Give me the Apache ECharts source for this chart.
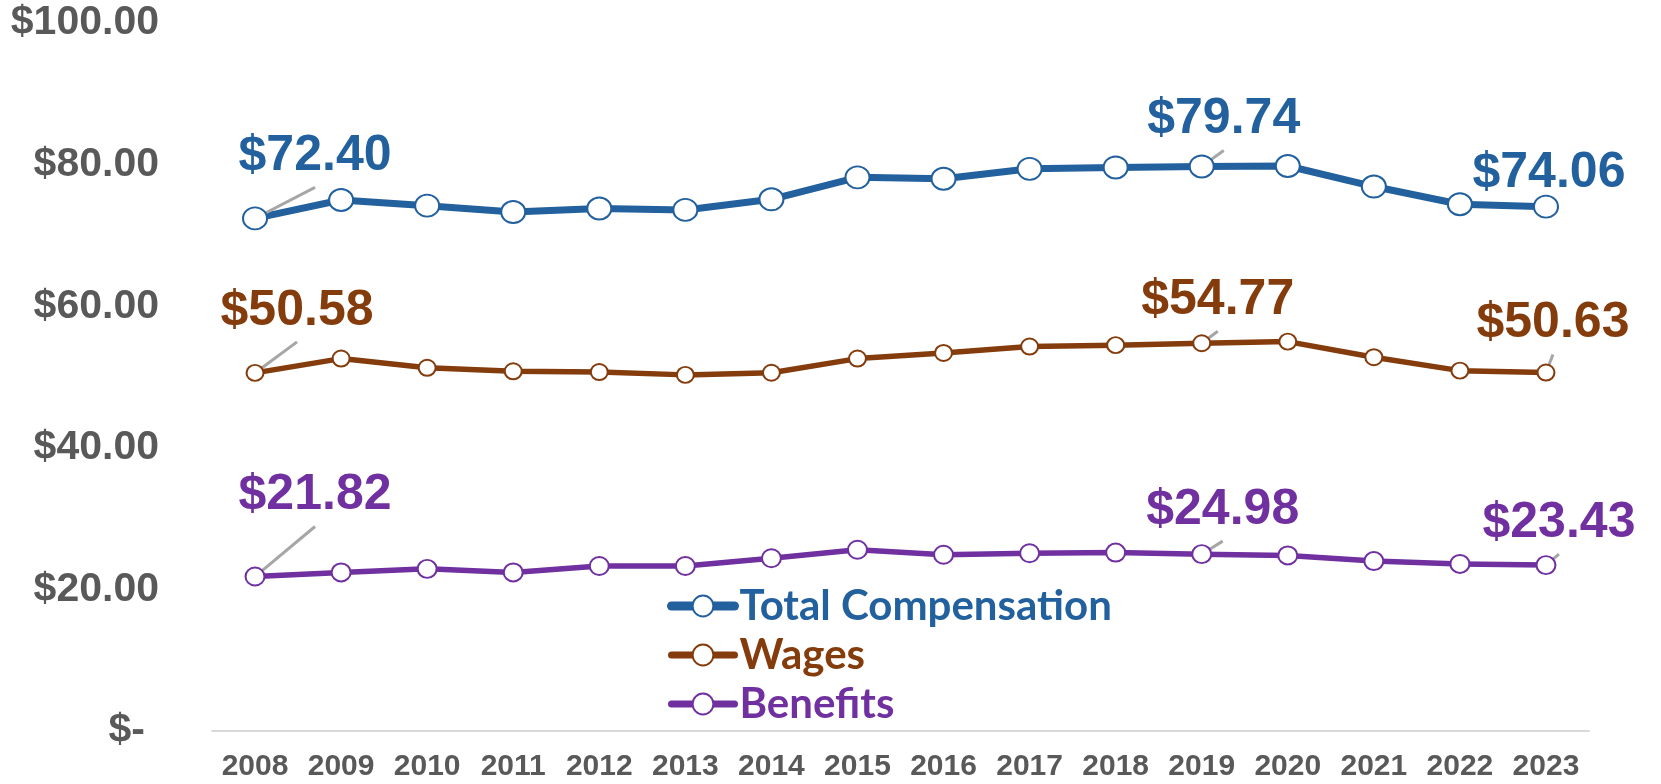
<!DOCTYPE html>
<html>
<head>
<meta charset="utf-8">
<script src="https://cdn.jsdelivr.net/npm/echarts@6/dist/echarts.min.js"></script>
<style>
  html, body { margin: 0; padding: 0; background: #ffffff; }
  #chart { width: 1661px; height: 784px; }
</style>
</head>
<body>
<div id="chart"></div>
<script>
// ---- Data ----
const categories = ['2008','2009','2010','2011','2012','2013','2014','2015','2016','2017','2018','2019','2020','2021','2022','2023'];
const totalCompensation = [72.40, 75.00, 74.20, 73.30, 73.80, 73.60, 75.10, 78.20, 78.00, 79.40, 79.60, 79.74, 79.80, 76.90, 74.40, 74.06];
const wages            = [50.58, 52.60, 51.30, 50.80, 50.70, 50.30, 50.60, 52.60, 53.40, 54.30, 54.50, 54.77, 55.00, 52.80, 50.90, 50.63];
const benefits         = [21.82, 22.40, 22.90, 22.40, 23.30, 23.30, 24.40, 25.60, 24.90, 25.10, 25.20, 24.98, 24.80, 24.00, 23.60, 23.43];
const seriesNames = ['Total Compensation', 'Wages', 'Benefits'];
const yTickValues = [0, 20, 40, 60, 80, 100];
const yTickLabels = ['$-', '$20.00', '$40.00', '$60.00', '$80.00', '$100.00'];
const labeledIndices = [0, 11, 15];

// ---- Styling / layout (not data) ----
const colors = ['#22609E', '#843C0C', '#7030A0'];
const lineWidths = [7, 5.5, 5.5];
const legendLineWidths = [9, 7, 7];
const symbolSizes = [[24, 22], [17, 16], [19, 18]];
const labelFont = '"Liberation Sans", Arial, sans-serif';
// label displacement (px) from each point, keyed by series then data index
const labelShift = [
  { 0: [60, -62], 11: [22, -47], 15: [3, -33] },
  { 0: [42, -62], 11: [16, -43], 15: [7, -49] },
  { 0: [60, -81], 11: [21, -44], 15: [13, -42] }
];

function fmtMoney(v) { return '$' + v.toFixed(2); }

function buildSeries(name, values, k) {
  return {
    name: name,
    type: 'line',
    data: values.map(function (v, i) {
      return labeledIndices.indexOf(i) >= 0 ? { value: v, label: { show: true }, labelLine: { show: true } } : v;
    }),
    symbol: 'circle',
    symbolSize: symbolSizes[k],
    showAllSymbol: true,
    lineStyle: { color: colors[k], width: lineWidths[k], cap: 'round', join: 'round' },
    itemStyle: { color: '#ffffff', borderColor: colors[k], borderWidth: 2 },
    emphasis: { disabled: true },
    label: {
      show: false,
      position: 'inside',
      formatter: function (p) { return fmtMoney(p.value); },
      fontFamily: labelFont,
      fontWeight: 'bold',
      fontSize: 50,
      color: colors[k],
      backgroundColor: 'rgba(255,255,255,0)',
      padding: [0, 60, 12, 60]
    },
    labelLine: { show: false, lineStyle: { color: '#A6A6A6', width: 3 } },
    labelLayout: function (p) {
      const s = labelShift[k][p.dataIndex];
      return s ? { dx: s[0], dy: s[1] } : {};
    },
    z: 3 + k
  };
}

const chart = echarts.init(document.getElementById('chart'), null, { renderer: 'canvas' });
chart.setOption({
  animation: false,
  backgroundColor: '#ffffff',
  grid: { left: 212, right: 72, top: 23, bottom: 53, containLabel: false },
  legend: {
    orient: 'vertical',
    left: 667,
    top: 585,
    padding: 0,
    itemWidth: 63,
    itemHeight: 26,
    itemGap: 7,
    selectedMode: false,
    data: seriesNames.map(function (n, k) {
      return {
        name: n,
        textStyle: { color: colors[k] },
        lineStyle: { color: colors[k], width: legendLineWidths[k], cap: 'round' }
      };
    }),
    textStyle: {
      fontFamily: 'Lato, "Open Sans", sans-serif',
      fontWeight: 'bold',
      fontSize: 42
    }
  },
  xAxis: {
    type: 'category',
    data: categories,
    boundaryGap: true,
    axisTick: { show: false },
    axisLine: { show: true, lineStyle: { color: '#D9D9D9', width: 2 } },
    axisLabel: {
      color: '#595959',
      fontFamily: labelFont,
      fontWeight: 'bold',
      fontSize: 30,
      margin: 21,
      interval: 0
    }
  },
  yAxis: {
    type: 'value',
    min: 0,
    max: 100,
    interval: 20,
    splitLine: { show: false },
    axisLine: { show: false },
    axisTick: { show: false },
    axisLabel: {
      color: '#595959',
      fontFamily: labelFont,
      fontWeight: 'bold',
      fontSize: 41,
      margin: 53,
      formatter: function (v) {
        const i = yTickValues.indexOf(v);
        const t = i >= 0 ? yTickLabels[i] : fmtMoney(v);
        return v === 0 ? '{z|' + t + '}' : t;
      },
      rich: {
        z: {
          color: '#595959',
          fontFamily: labelFont,
          fontWeight: 'bold',
          fontSize: 41,
          padding: [0, 14, 0, 0]
        }
      }
    }
  },
  series: [
    buildSeries(seriesNames[0], totalCompensation, 0),
    buildSeries(seriesNames[1], wages, 1),
    buildSeries(seriesNames[2], benefits, 2)
  ]
});
</script>
</body>
</html>
